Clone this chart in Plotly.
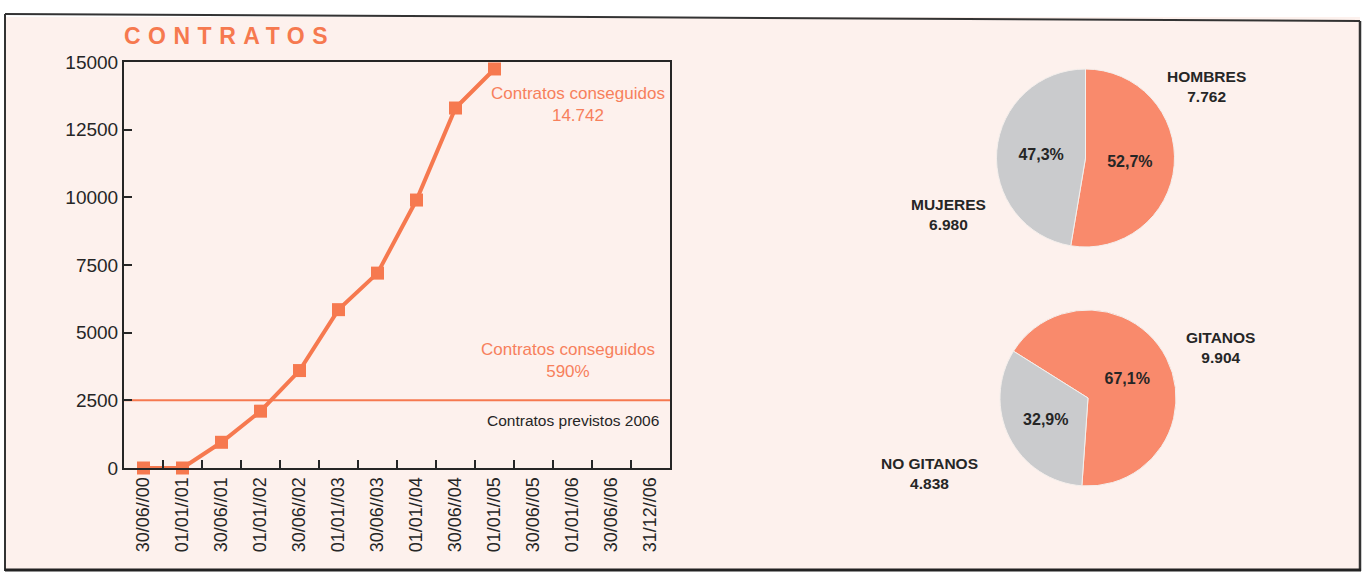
import plotly.graph_objects as go

W, H = 1366, 574

# ---------------- data ----------------
fechas = ["30/06//00", "01/01//01", "30/06//01", "01/01//02", "30/06//02", "01/01//03",
          "30/06//03", "01/01//04", "30/06//04", "01/01//05", "30/06//05", "01/01//06",
          "30/06//06", "31/12//06"]
contratos = [0, 0, 950, 2100, 3600, 5850, 7200, 9900, 13300, 14742]
previstos_2006 = 2500
y_ticks = [0, 2500, 5000, 7500, 10000, 12500, 15000]

sexo_labels = ["HOMBRES", "MUJERES"]
sexo_values = [7762, 6980]
sexo_pct = ["52,7%", "47,3%"]

etnia_labels = ["GITANOS", "NO GITANOS"]
etnia_values = [9904, 4838]
etnia_pct = ["67,1%", "32,9%"]

# ---------------- styles ----------------
ORANGE = "#f6794f"
TXT_OR = "#f7805c"
PIE_OR = "#f98a6c"
GRAY = "#cacbcd"
BG = "#fdf1ed"
DARK = "#262626"
SANS = "Liberation Sans, Arial, Helvetica, sans-serif"


def px_x(p):
    return p / W


def px_y(p):
    return 1 - p / H


def fmt_miles(v):
    return f"{v:,}".replace(",", ".")


fig = go.Figure()

# contratos line
fig.add_trace(go.Scatter(
    x=fechas[:len(contratos)], y=contratos, mode="lines+markers",
    line=dict(color=ORANGE, width=4),
    marker=dict(symbol="square", size=13, color=ORANGE),
    showlegend=False, xaxis="x", yaxis="y", cliponaxis=False))

fig.update_layout(
    xaxis=dict(
        domain=[px_x(124), px_x(670)], anchor="y", type="category",
        categoryorder="array", categoryarray=fechas,
        range=[-0.5, len(fechas) - 0.5], automargin=False,
        showline=True, linecolor=DARK, linewidth=2, mirror=True,
        ticks="inside", tickson="boundaries", ticklen=8, tickwidth=2, tickcolor=DARK,
        tickangle=-90, tickfont=dict(family=SANS, size=18, color=DARK),
        showgrid=False, zeroline=False, fixedrange=True),
    yaxis=dict(
        domain=[px_y(468), px_y(62)], anchor="x", range=[0, 15000], automargin=False,
        tickvals=y_ticks, ticktext=[str(v) for v in y_ticks],
        showline=True, linecolor=DARK, linewidth=2, mirror=True,
        ticks="inside", ticklen=8, tickwidth=2, tickcolor=DARK,
        tickfont=dict(family=SANS, size=19, color=DARK),
        showgrid=False, zeroline=False, fixedrange=True),
)

# pies
pie_common = dict(
    sort=False, direction="clockwise", textinfo="text",
    textposition="inside", insidetextorientation="horizontal",
    marker=dict(colors=[PIE_OR, GRAY], line=dict(color="#f4efec", width=1)),
    textfont=dict(family=SANS, size=16, color=DARK, weight="bold"),
    showlegend=False, hoverinfo="label+value+percent")

fig.add_trace(go.Pie(
    labels=sexo_labels, values=sexo_values, text=sexo_pct, rotation=0,
    domain=dict(x=[px_x(996), px_x(1175)], y=[px_y(247), px_y(69)]), **pie_common))
fig.add_trace(go.Pie(
    labels=etnia_labels, values=etnia_values, text=etnia_pct,
    rotation=184 + 360 * etnia_values[1] / sum(etnia_values),
    domain=dict(x=[px_x(1000), px_x(1176)], y=[px_y(486), px_y(310)]), **pie_common))

annotations = []
# title
annotations.append(dict(
    text='<span style="letter-spacing:7.5px">CONTRATOS</span>',
    x=px_x(122), y=px_y(36), xref="paper", yref="paper", xanchor="left", yanchor="middle",
    showarrow=False, font=dict(family=SANS, size=23, color=ORANGE, weight="bold")))
# line chart annotations
annotations.append(dict(
    text=f"Contratos conseguidos<br>{fmt_miles(contratos[-1])}",
    x=px_x(578), y=px_y(104), xref="paper", yref="paper", xanchor="center", yanchor="middle",
    showarrow=False, font=dict(family=SANS, size=17, color=TXT_OR)))
annotations.append(dict(
    text=f"Contratos conseguidos<br>{round(contratos[-1] / previstos_2006 * 100)}%",
    x=px_x(568), y=px_y(360), xref="paper", yref="paper", xanchor="center", yanchor="middle",
    showarrow=False, font=dict(family=SANS, size=17, color=TXT_OR)))
annotations.append(dict(
    text="Contratos previstos 2006",
    x=px_x(661), y=px_y(420), xref="paper", yref="paper", xanchor="right", yanchor="middle",
    showarrow=False, font=dict(family=SANS, size=15.5, color=DARK)))

# pie outer labels
label_pos = [(1206, 87), (948, 214), (1220, 347), (929, 473)]
for (lab, val), (lx, ly) in zip(list(zip(sexo_labels, sexo_values)) + list(zip(etnia_labels, etnia_values)),
                                label_pos):
    annotations.append(dict(
        text=f"{lab}<br>{fmt_miles(val)}", x=px_x(lx), y=px_y(ly), xref="paper", yref="paper",
        xanchor="center", yanchor="middle", showarrow=False,
        font=dict(family=SANS, size=15.5, color=DARK, weight="bold")))

shapes = [
    dict(type="rect", xref="paper", yref="paper", x0=px_x(5), x1=px_x(1360), y0=px_y(570), y1=px_y(17),
         fillcolor=BG, line=dict(width=0), layer="below"),
    dict(type="line", xref="paper", yref="paper", x0=px_x(5), x1=px_x(1360), y0=px_y(14), y1=px_y(21),
         line=dict(color="#333", width=2)),
    dict(type="line", xref="paper", yref="paper", x0=px_x(5), x1=px_x(5), y0=px_y(14), y1=px_y(571),
         line=dict(color="#333", width=2)),
    dict(type="line", xref="paper", yref="paper", x0=px_x(1360), x1=px_x(1360), y0=px_y(21), y1=px_y(571),
         line=dict(color="#333", width=2.5)),
    dict(type="line", xref="paper", yref="paper", x0=px_x(5), x1=px_x(1361), y0=px_y(570), y1=px_y(570),
         line=dict(color="#222", width=3)),
    # previstos 2006 reference line across the whole plot box
    dict(type="line", xref="x domain", yref="y", x0=0, x1=1, y0=previstos_2006, y1=previstos_2006,
         line=dict(color=ORANGE, width=2), layer="below"),
]

fig.update_layout(
    width=W, height=H, margin=dict(l=0, r=0, t=0, b=0, autoexpand=False),
    paper_bgcolor="white", plot_bgcolor="rgba(0,0,0,0)",
    annotations=annotations, shapes=shapes, showlegend=False,
    font=dict(family=SANS, color=DARK),
)

fig.write_html("out.html", config={"displayModeBar": False},
               post_script="document.body.style.margin='0';document.body.style.overflow='hidden';")
